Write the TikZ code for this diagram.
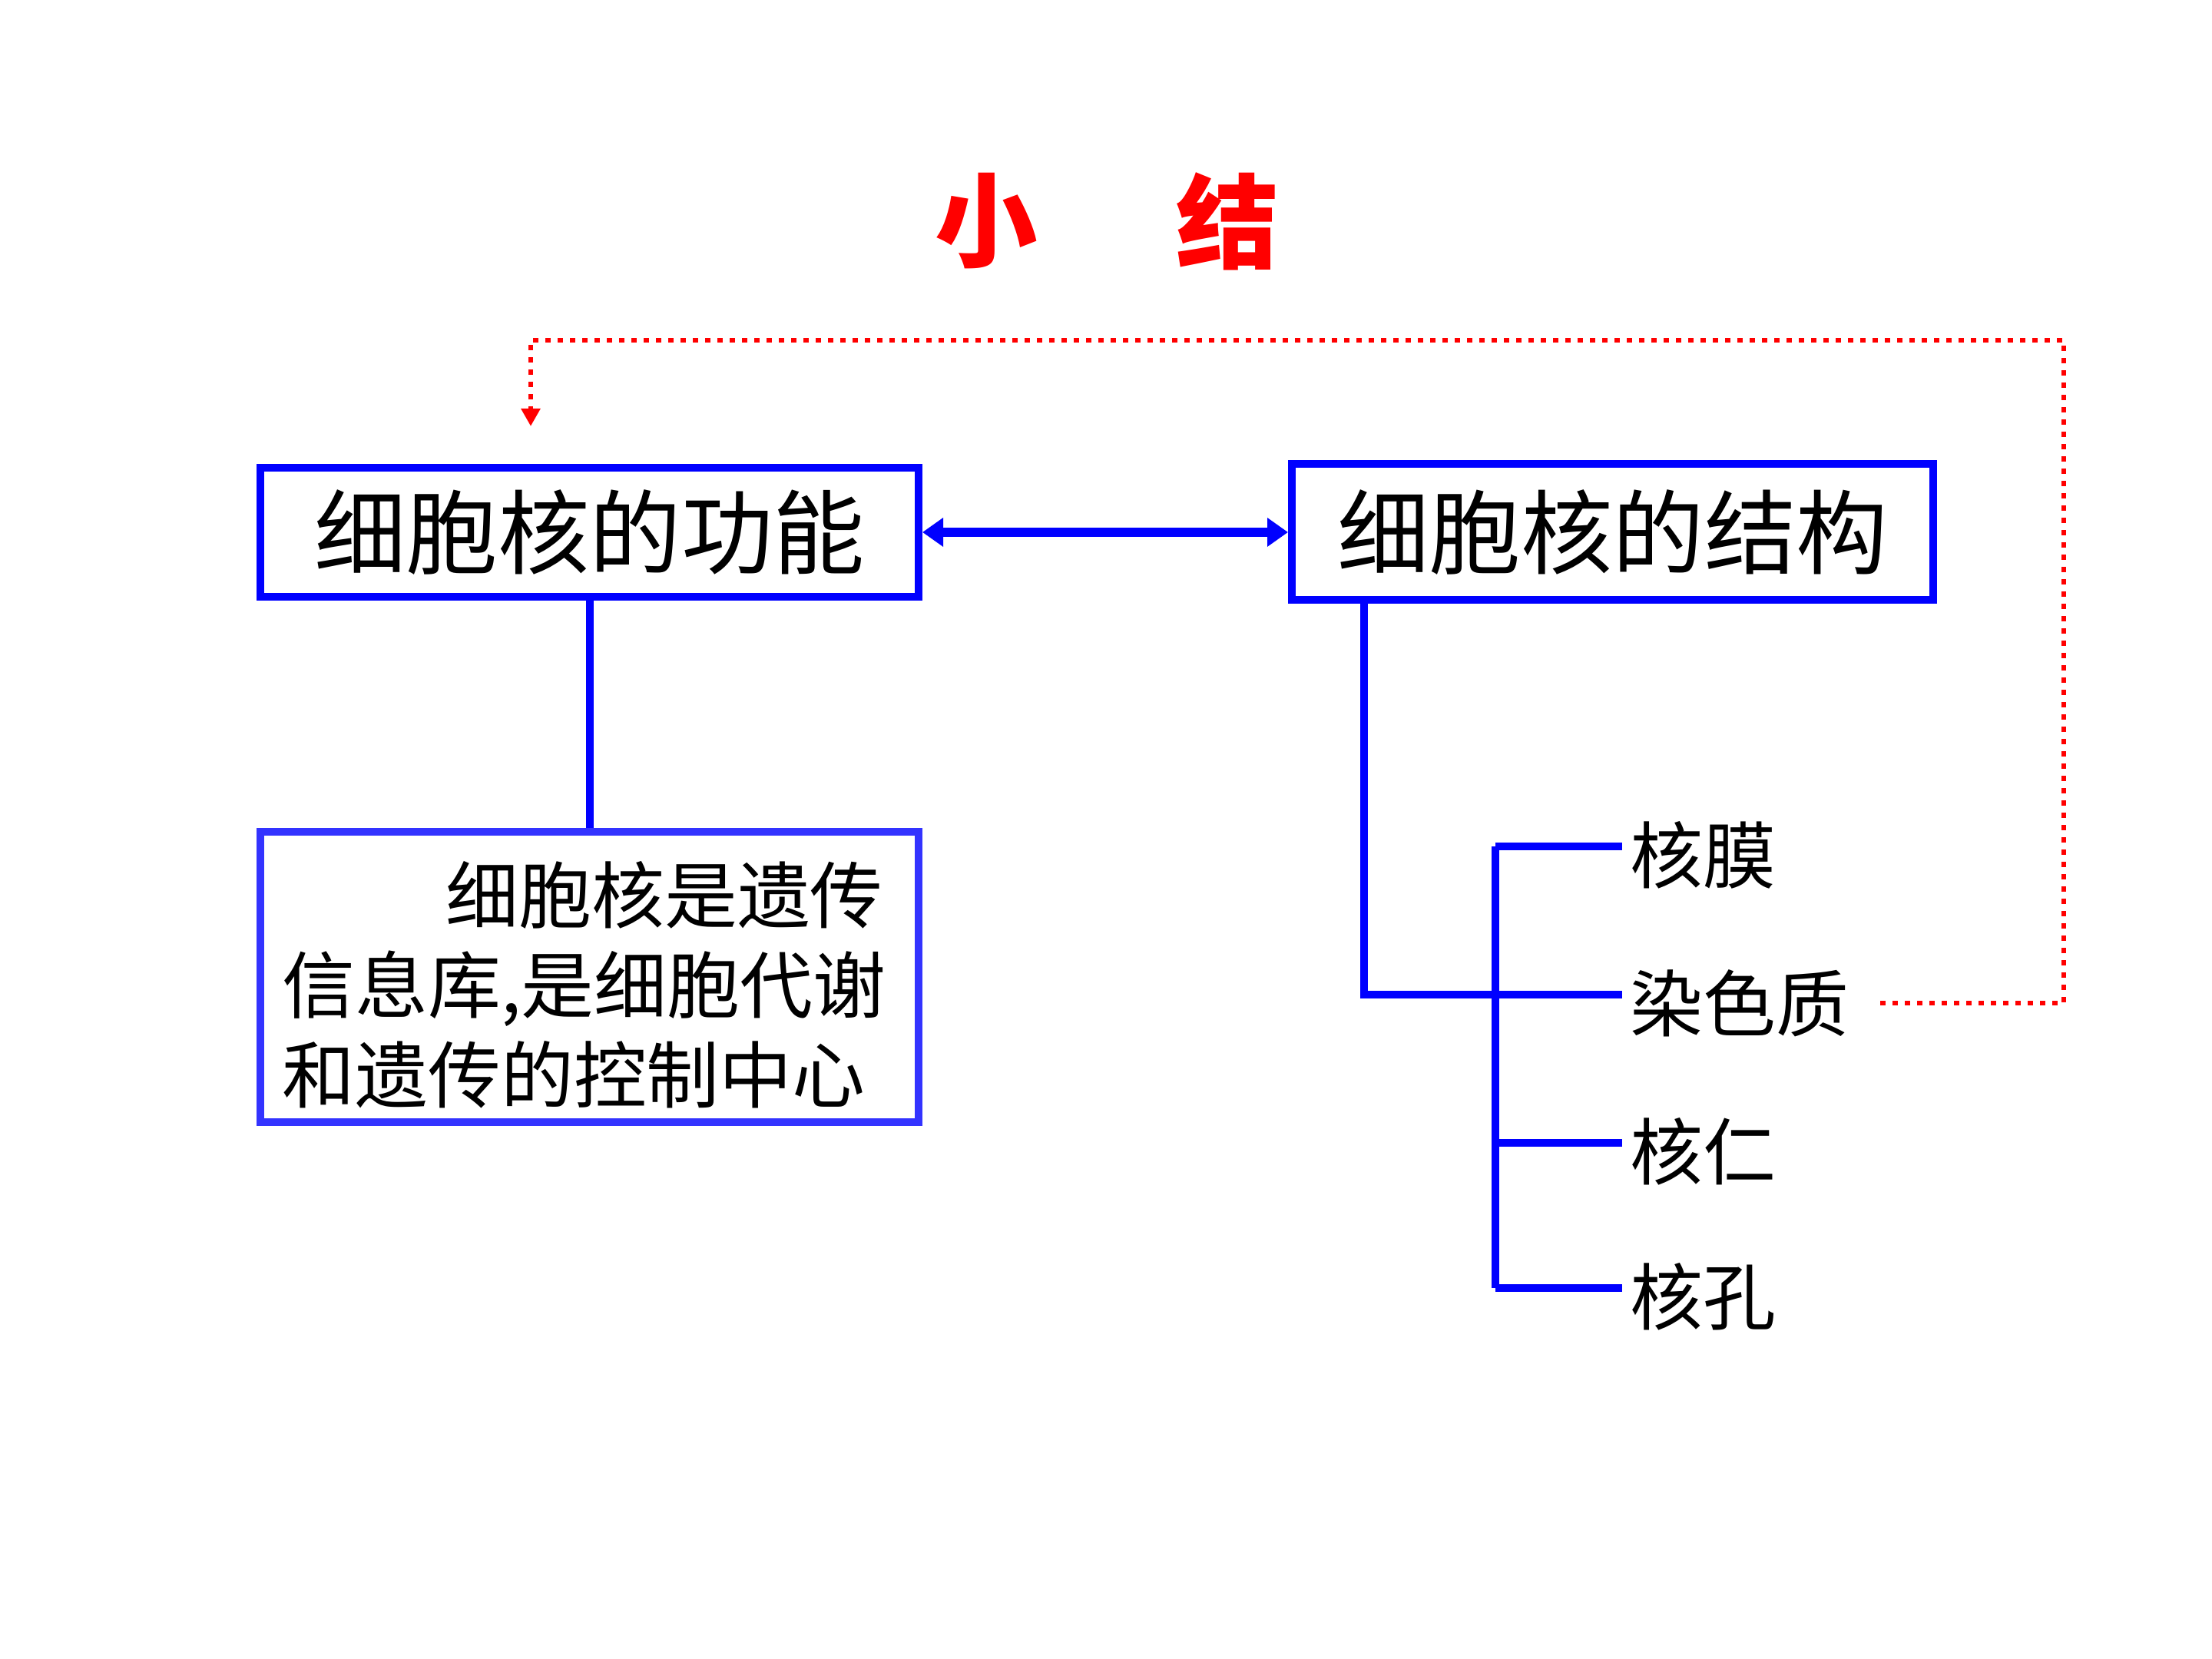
\documentclass[tikz,border=0pt]{standalone}
\usepackage{fontspec}
\setmainfont{Noto Sans CJK SC}
\usepackage{tikz}
\usetikzlibrary{arrows.meta, positioning}

\definecolor{boxblue}{RGB}{0,0,255}
\definecolor{noteblue}{RGB}{51,51,255}
\definecolor{linkred}{RGB}{255,0,0}

\begin{document}
\begin{tikzpicture}[
	topic/.style={draw=boxblue, line width=0.1cm, minimum width=8.57cm, minimum height=1.68cm, inner sep=0pt, font=\fontsize{34pt}{40pt}\selectfont},
	note/.style={draw=noteblue, line width=0.1cm, minimum width=8.57cm, minimum height=3.78cm, inner sep=0pt, text width=8.0cm, align=left, font=\fontsize{27pt}{33.3pt}\selectfont},
	part/.style={anchor=west, inner sep=0.1cm, font=\fontsize{27pt}{30pt}\selectfont},
	headline/.style={text=linkred, font=\fontsize{38pt}{40pt}\selectfont\bfseries},
	wire/.style={draw=boxblue, line width=0.1cm},
	twoway/.style={draw=boxblue, line width=0.12cm, {Triangle[length=0.27cm,width=0.36cm]}-{Triangle[length=0.27cm,width=0.36cm]}},
	feedback/.style={draw=linkred, line width=0.065cm, dash pattern=on 0.065cm off 0.095cm, -{Triangle[length=0.23cm,width=0.24cm]}}
]
	\useasboundingbox (0,0) rectangle (28.8,21.6);

	% title
	\node[headline] at (12.84,18.72) (titleA) {小};
	\node[headline] at (15.98,18.72) (titleB) {结};

	% the two main boxes
	\node[topic] at (7.675,14.67) (func) {细胞核的功能};
	\node[topic, minimum width=8.35cm, minimum height=1.77cm] at (20.995,14.67) (struct) {细胞核的结构};
	\node[note] at (7.675,8.88) (desc) {\rule{0pt}{1.0cm}\hspace*{2.13cm}细胞核是遗传\\信息库,是细胞代谢\\和遗传的控制中心};

	% parts of the nucleus
	\node[part] at (21.12,10.47) (membrane) {核膜};
	\node[part] at (21.12,8.54) (chromatin) {染色质};
	\node[part] at (21.12,6.61) (nucleolus) {核仁};
	\node[part] at (21.12,4.72) (pore) {核孔};

	\coordinate (hub) at (19.47,8.65);
	\coordinate (brTop) at (19.47,10.58);
	\coordinate (brBot) at (19.47,4.83);
	\coordinate (turnR) at (26.87,17.17);
	\coordinate (turnL) at (6.91,17.17);
	\coordinate (tipEnd) at (6.91,16.05);

	\draw[twoway] (func) -- (struct);
	\draw[wire] (func) -- (desc);
	\draw[wire] ([xshift=0.99cm]struct.south west) |- (hub);
	\draw[wire] (brTop) -- (brBot);
	\foreach \p in {membrane, chromatin, nucleolus, pore} {
		\coordinate (pin) at ([yshift=0.11cm]\p.west);
		\draw[wire] (hub |- pin) -- (pin);
	}

	% back to the function box
	\draw[feedback] ([xshift=0.3cm]chromatin.east) -| (turnR) -- (turnL) -- (tipEnd);
\end{tikzpicture}
\end{document}
